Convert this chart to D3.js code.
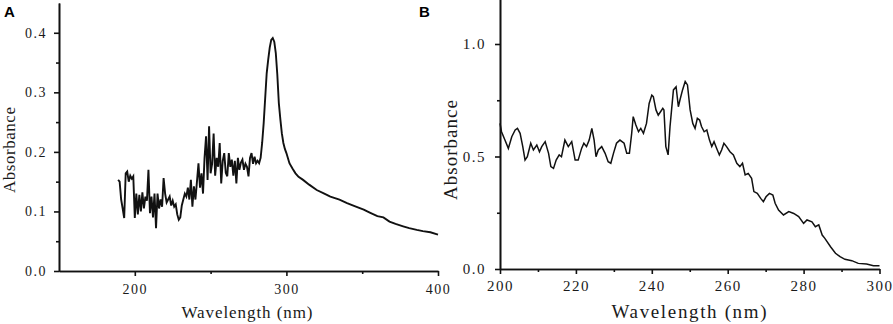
<!DOCTYPE html>
<html>
<head>
<meta charset="utf-8">
<script src="https://cdn.jsdelivr.net/npm/d3@7"></script>
<style>
  body { margin: 0; background: #fff; }
  svg { display: block; }
  .axis path, .axis line { stroke: #111; stroke-width: 1.6px; }
  .axis text, .lbl { font-family: "Times New Roman", "Liberation Serif", "DejaVu Serif", serif; fill: #1a1a1a; }
</style>
</head>
<body>
<div id="chart"></div>
<script>
// panel A - absorbance spectrum 190-400 nm
var wavelengthA = [189,190,191,192,193,194,195,196,197,198,199,200,201,202,203,204,205,206,207,208,209,210,
  211,212,213,214,215,216,217,218,219,220,221,222,223,224,225,226,227,228,229,230,231,232,233,234,235,236,237,238,
  239,240,241,242,243,244,245,246,247,248,249,250,251,252,253,254,255,256,257,258,259,260,261,262,263,264,265,266,
  267,268,269,270,271,272,273,274,275,276,277,278,279,280,281,282,283,284,285,286,287,288,289,290,291,292,293,294,
  295,296,297,298,299,300,302,304,306,308,311,315,320,325,329,335,340,345,351,355,360,364,368,372,377,381,386,390,395,400];
var absorbanceA = [0.153,0.150,0.120,0.105,0.089,0.164,0.167,0.150,0.160,0.155,0.159,0.089,0.130,0.095,0.128,0.100,
  0.132,0.105,0.125,0.118,0.170,0.097,0.125,0.090,0.130,0.072,0.130,0.105,0.120,0.108,0.156,0.130,0.115,0.120,0.125,
  0.110,0.118,0.108,0.112,0.095,0.086,0.090,0.110,0.120,0.130,0.125,0.140,0.120,0.153,0.108,0.142,0.120,0.150,0.181,
  0.140,0.164,0.130,0.190,0.226,0.153,0.243,0.164,0.180,0.231,0.160,0.190,0.175,0.215,0.147,0.185,0.198,0.165,0.159,
  0.198,0.175,0.187,0.160,0.185,0.147,0.190,0.170,0.182,0.187,0.170,0.180,0.175,0.159,0.190,0.198,0.180,0.192,0.181,
  0.185,0.181,0.190,0.215,0.248,0.290,0.332,0.355,0.375,0.388,0.391,0.385,0.366,0.330,0.282,0.255,0.231,0.215,0.205,
  0.198,0.181,0.172,0.164,0.158,0.153,0.145,0.136,0.130,0.125,0.120,0.114,0.109,0.103,0.098,0.092,0.090,0.083,0.079,
  0.075,0.072,0.069,0.067,0.065,0.061];
var xTicksA = [200, 300, 400];
var xMinorA = [250, 350];
var yTicksA = [0, 0.1, 0.2, 0.3, 0.4];
var yMinorA = [0.05, 0.15, 0.25, 0.35];

// panel B - absorbance spectrum 200-300 nm
var wavelengthB = [200,200.4,201.3,202.2,203.1,204,204.6,205.3,206,206.6,207.2,208.1,208.8,209.7,210.4,211,211.9,
  212.8,213.4,214.1,214.8,215.6,216.2,217.1,218,218.9,219.8,220.6,221.5,222.1,222.8,223.5,224.2,224.8,225.3,225.9,
  226.8,227.7,228.5,229.2,229.9,230.7,231.6,232.7,233.4,234.1,234.7,235.1,235.8,236.5,237.1,237.8,238.6,239.3,240,
  240.4,241.1,241.7,242.3,242.9,243.2,243.7,244.3,244.8,245.7,246.4,247,247.4,248.1,248.8,249.4,250.1,250.8,251.4,
  252,252.6,253.1,253.8,254.5,255.2,255.8,256.4,257.1,257.8,258.4,259,259.7,260.6,261.5,262.4,263.2,263.9,264.6,
  265.4,266.3,266.9,267.8,268.7,269.4,270.1,271,271.9,272.5,273.4,274.7,276.1,277.4,278.7,280,280.9,282.2,283.1,
  284,284.9,285.6,287.1,288.4,289.6,290.9,292.7,294.4,296.6,298.4,300];
var absorbanceB = [0.647,0.61,0.573,0.536,0.588,0.618,0.625,0.603,0.544,0.484,0.499,0.559,0.529,0.551,0.521,0.544,
  0.566,0.514,0.455,0.447,0.484,0.507,0.499,0.573,0.544,0.566,0.484,0.484,0.536,0.559,0.544,0.573,0.625,0.573,0.499,
  0.529,0.544,0.514,0.477,0.47,0.514,0.559,0.573,0.559,0.514,0.514,0.603,0.677,0.64,0.61,0.625,0.603,0.647,0.736,
  0.773,0.766,0.707,0.684,0.699,0.714,0.707,0.544,0.507,0.633,0.796,0.81,0.721,0.75,0.796,0.833,0.818,0.707,0.647,
  0.625,0.67,0.662,0.633,0.61,0.618,0.573,0.544,0.566,0.536,0.507,0.529,0.559,0.544,0.521,0.507,0.47,0.455,0.47,
  0.418,0.425,0.403,0.344,0.336,0.314,0.299,0.321,0.336,0.329,0.292,0.262,0.24,0.255,0.247,0.233,0.203,0.218,0.21,
  0.188,0.196,0.151,0.136,0.099,0.07,0.055,0.043,0.037,0.025,0.022,0.015,0.015];
var xTicksB = [200, 220, 240, 260, 280, 300];
var xMinorB = [210, 230, 250, 270, 290];
var yTicksB = [0, 0.5, 1.0];
var yMinorB = [0.25, 0.75];

var width = 893, height = 324;

var svg = d3.select("#chart").append("svg")
    .attr("width", width)
    .attr("height", height);

function panel(opt) {
    var x = d3.scaleLinear().domain(opt.xDomain).range([opt.left, opt.right]);
    var y = d3.scaleLinear().domain(opt.yDomain).range([opt.bottom, opt.top]);

    // minor ticks first, no labels
    svg.append("g").attr("class", "axis")
        .attr("transform", "translate(0," + opt.bottom + ")")
        .call(d3.axisBottom(x).tickValues(opt.xMinor).tickSize(3).tickSizeOuter(0).tickFormat(""));
    svg.append("g").attr("class", "axis")
        .attr("transform", "translate(" + opt.left + ",0)")
        .call(d3.axisLeft(y).tickValues(opt.yMinor).tickSize(3).tickSizeOuter(0).tickFormat(""));

    var xAxis = svg.append("g").attr("class", "axis")
        .attr("transform", "translate(0," + opt.bottom + ")")
        .call(d3.axisBottom(x).tickValues(opt.xTicks).tickSize(5).tickSizeOuter(0).tickPadding(opt.xPad));
    xAxis.selectAll("text")
        .style("font-size", opt.tickFont + "px")
        .style("letter-spacing", "1.5px");

    var yAxis = svg.append("g").attr("class", "axis")
        .attr("transform", "translate(" + opt.left + ",0)")
        .call(d3.axisLeft(y).tickValues(opt.yTicks).tickSize(5).tickSizeOuter(0)
            .tickPadding(opt.yPad).tickFormat(d3.format(".1f")));
    yAxis.selectAll("text")
        .style("font-size", opt.tickFont + "px")
        .style("letter-spacing", "1.5px");

    var line = d3.line()
        .x(function(d) { return x(d[0]); })
        .y(function(d) { return y(d[1]); });

    svg.append("path")
        .datum(d3.zip(opt.xs, opt.ys))
        .attr("d", line)
        .attr("fill", "none")
        .attr("stroke", "#111")
        .attr("stroke-width", opt.lineWidth)
        .attr("stroke-linejoin", "miter");

    svg.append("text")
        .attr("class", "lbl")
        .attr("x", opt.xLabelX)
        .attr("y", 318)
        .attr("text-anchor", "middle")
        .attr("textLength", opt.xLabelLen)
        .style("font-size", opt.labelFont + "px")
        .text("Wavelength (nm)");

    svg.append("text")
        .attr("class", "lbl")
        .attr("transform", "translate(" + opt.yLabelX + ",150) rotate(-90)")
        .attr("text-anchor", "middle")
        .attr("textLength", opt.yLabelLen)
        .style("font-size", opt.labelFont + "px")
        .text("Absorbance");

    svg.append("text")
        .attr("x", opt.tagX)
        .attr("y", 17)
        .style("font-family", "'Liberation Sans', Arial, sans-serif")
        .style("font-weight", "bold")
        .style("font-size", "15px")
        .text(opt.tag);
}

panel({
    tag: "A", tagX: 4,
    xs: wavelengthA, ys: absorbanceA,
    xDomain: [150, 400], yDomain: [0, 0.45],
    left: 59, right: 438, bottom: 271, top: 3,
    xTicks: xTicksA, xMinor: xMinorA, yTicks: yTicksA, yMinor: yMinorA,
    tickFont: 14, xPad: 8, yPad: 7,
    labelFont: 17, xLabelX: 247, xLabelLen: 131, yLabelX: 15, yLabelLen: 86,
    lineWidth: 1.9
});

panel({
    tag: "B", tagX: 419,
    xs: wavelengthB, ys: absorbanceB,
    xDomain: [200, 300], yDomain: [0, 1.2],
    left: 500, right: 879.5, bottom: 269, top: -1,
    xTicks: xTicksB, xMinor: xMinorB, yTicks: yTicksB, yMinor: yMinorB,
    tickFont: 15, xPad: 6, yPad: 9,
    labelFont: 19, xLabelX: 689, xLabelLen: 155, yLabelX: 457, yLabelLen: 100,
    lineWidth: 1.5
});
</script>
</body>
</html>
